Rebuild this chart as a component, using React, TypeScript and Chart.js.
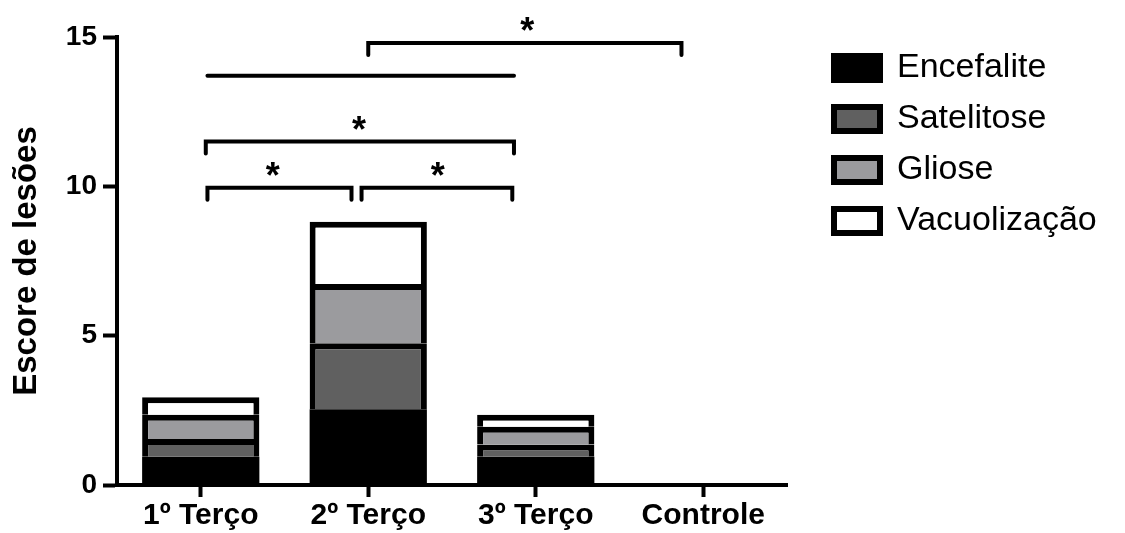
import React, { useEffect, useRef } from 'react';
import { Chart, registerables } from 'chart.js';

Chart.register(...registerables);

const FONT = '"Liberation Sans", Arial, Helvetica, sans-serif';

// Categories and stacked series (score units)
const categories = ['1º Terço', '2º Terço', '3º Terço', 'Controle'];
const encefalite = [0.95, 2.54, 0.95, 0];
const satelitose = [0.59, 2.21, 0.41, 0];
const gliose = [0.81, 1.98, 0.59, 0];
const vacuolizacao = [0.59, 2.08, 0.4, 0];
const yTicks = [0, 5, 10, 15];

// Significance brackets: x in category-index units, y in score units
const bracketStart = [1.0, 0.04, 0.03, 0.04, 0.96];
const bracketEnd = [2.87, 1.87, 1.87, 0.9, 1.86];
const bracketLevel = [14.8, 13.7, 11.5, 9.95, 9.95];
const bracketLegs = [true, false, true, true, true];
const bracketLabel = ['*', '', '*', '*', '*'];
const bracketLabelX = [1.95, 0.95, 0.945, 0.43, 1.415];

const bracketPlugin = {
  id: 'brackets',
  afterDatasetsDraw(chart: any) {
    const { ctx } = chart;
    const x = chart.scales.x;
    const y = chart.scales.y;
    ctx.save();
    ctx.strokeStyle = '#000';
    ctx.lineWidth = 4;
    ctx.lineCap = 'round';
    ctx.lineJoin = 'miter';
    bracketStart.forEach((s, i) => {
      const x1 = x.getPixelForValue(s);
      const x2 = x.getPixelForValue(bracketEnd[i]);
      const yy = y.getPixelForValue(bracketLevel[i]);
      ctx.beginPath();
      if (bracketLegs[i]) {
        ctx.moveTo(x1, yy + 12);
        ctx.lineTo(x1, yy);
        ctx.lineTo(x2, yy);
        ctx.lineTo(x2, yy + 12);
      } else {
        ctx.moveTo(x1, yy);
        ctx.lineTo(x2, yy);
      }
      ctx.stroke();
      if (bracketLabel[i]) {
        ctx.font = `bold 36px ${FONT}`;
        ctx.textAlign = 'center';
        ctx.textBaseline = 'alphabetic';
        ctx.fillStyle = '#000';
        ctx.fillText(bracketLabel[i], x.getPixelForValue(bracketLabelX[i]), yy);
      }
    });
    ctx.restore();
  },
};

const legendShift = {
  id: 'legendShift',
  afterLayout(chart: any) {
    const l = chart.legend;
    if (l) {
      l.left += 30;
      l.right += 30;
      l.top -= 3;
      l.bottom -= 3;
    }
  },
};

export default function App() {
  const ref = useRef<HTMLCanvasElement | null>(null);

  useEffect(() => {
    if (!ref.current) return;
    const common = { borderColor: '#000', borderWidth: 6, barPercentage: 0.7, categoryPercentage: 1 };
    const chart = new Chart(ref.current, {
      type: 'bar',
      data: {
        labels: categories,
        datasets: [
          { label: 'Encefalite', data: encefalite, backgroundColor: '#000000', ...common, borderWidth: 0 },
          { label: 'Satelitose', data: satelitose, backgroundColor: '#606060', ...common },
          { label: 'Gliose', data: gliose, backgroundColor: '#9b9b9e', ...common },
          { label: 'Vacuolização', data: vacuolizacao, backgroundColor: '#ffffff', ...common },
        ],
      },
      options: {
        animation: false,
        responsive: true,
        maintainAspectRatio: false,
        layout: { padding: { left: 0, top: 37, right: 58, bottom: 0 } },
        plugins: {
          legend: {
            position: 'right',
            align: 'start',
            maxWidth: 280,
            labels: {
              boxWidth: 46,
              boxHeight: 24,
              padding: 17,
              color: '#000',
              font: { family: FONT, size: 34 },
              generateLabels: (c: any) =>
                Chart.defaults.plugins.legend.labels
                  .generateLabels(c)
                  .map((item: any) => ({ ...item, lineWidth: 6, strokeStyle: '#000' })),
            },
          },
          tooltip: { enabled: false },
        },
        scales: {
          x: {
            stacked: true,
            offset: true,
            grid: {
              display: true,
              drawOnChartArea: false,
              drawTicks: true,
              tickLength: 12,
              tickWidth: 4,
              tickColor: '#000',
              offset: false,
            },
            border: { display: true, color: '#000', width: 4 },
            ticks: {
              color: '#000',
              padding: 1,
              maxRotation: 0,
              autoSkip: false,
              font: { family: FONT, size: 30, weight: 'bold' },
            },
            afterFit: (s: any) => {
              s.height = 48;
            },
          },
          y: {
            stacked: true,
            min: 0,
            max: 15,
            afterBuildTicks: (s: any) => {
              s.ticks = yTicks.map((v) => ({ value: v }));
            },
            ticks: {
              padding: 6,
              color: '#000',
              font: { family: FONT, size: 28, weight: 'bold' },
            },
            grid: {
              display: true,
              drawOnChartArea: false,
              drawTicks: true,
              tickLength: 14,
              tickWidth: 4,
              tickColor: '#000',
            },
            border: { display: true, color: '#000', width: 4 },
            title: {
              display: true,
              text: 'Escore de lesões',
              color: '#000',
              font: { family: FONT, size: 33, weight: 'bold' },
              padding: { top: 7, bottom: 0 },
            },
            afterFit: (s: any) => {
              s.width = 117;
            },
          },
        },
      } as any,
      plugins: [bracketPlugin, legendShift],
    });
    return () => chart.destroy();
  }, []);

  return (
    <div style={{ position: 'fixed', left: 0, top: 0, width: 1125, height: 533, background: '#fff' }}>
      <canvas ref={ref} />
    </div>
  );
}
